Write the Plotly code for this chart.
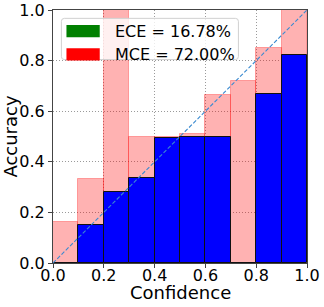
import plotly.graph_objects as go

bin_centers = [0.05, 0.15, 0.25, 0.35, 0.45, 0.55, 0.65, 0.75, 0.85, 0.95]
confidence = [0.162, 0.333, 1.0, 0.50, 0.50, 0.508, 0.663, 0.72, 0.851, 1.0]
accuracy = [0.0, 0.15, 0.28, 0.337, 0.493, 0.50, 0.50, 0.0, 0.667, 0.821]
tick_vals = [0.0, 0.2, 0.4, 0.6, 0.8, 1.0]
ece_label = "ECE = 16.78%"
mce_label = "MCE = 72.00%"

fig = go.Figure()
fig.add_trace(go.Bar(x=bin_centers, y=confidence, width=0.1,
                     marker=dict(color="rgba(255,0,0,0.3)",
                                 line=dict(color="rgba(255,0,0,0.3)", width=1)),
                     showlegend=False))
fig.add_trace(go.Bar(x=bin_centers, y=accuracy, width=0.1,
                     marker=dict(color="#0000ff", line=dict(color="#111", width=1)),
                     showlegend=False))
fig.add_trace(go.Scatter(x=[0, 1], y=[0, 1], mode="lines",
                         line=dict(color="#3a8ad0", width=1.1, dash="4px,2px"),
                         showlegend=False))

font = "DejaVu Sans"
axis_common = dict(range=[0, 1], tickvals=tick_vals, tickformat=".1f", automargin=False,
                   showgrid=True, gridcolor="#9a9a9a", griddash="1px,2px", gridwidth=0.8,
                   showline=True, linecolor="#444", linewidth=1, mirror=True,
                   ticks="outside", ticklen=4, tickcolor="#444",
                   tickfont=dict(family=font, size=16, color="black"),
                   zeroline=False, fixedrange=True)
fig.update_xaxes(**axis_common, ticklabelstandoff=-6)
fig.update_yaxes(**axis_common,
                 title=dict(text="Accuracy", font=dict(family=font, size=18, color="black"), standoff=2))
fig.add_annotation(x=0.5, y=-0.118, xref="paper", yref="paper", text="Confidence", showarrow=False,
                   xanchor="center", yanchor="middle", font=dict(family=font, size=18, color="black"))

# legend drawn manually
x0, x1, y0, y1, r = 0.033, 0.730, 0.804, 0.967, 0.012
path = (f"M {x0+r},{y0} L {x1-r},{y0} Q {x1},{y0} {x1},{y0+r} L {x1},{y1-r} "
        f"Q {x1},{y1} {x1-r},{y1} L {x0+r},{y1} Q {x0},{y1} {x0},{y1-r} "
        f"L {x0},{y0+r} Q {x0},{y0} {x0+r},{y0} Z")
fig.add_shape(type="path", path=path, xref="x", yref="y", layer="above",
              fillcolor="rgba(255,255,255,0.8)", line=dict(color="#d0d0d0", width=1))
fig.add_shape(type="rect", x0=0.053, x1=0.184, y0=0.892, y1=0.941, xref="x", yref="y",
              layer="above", fillcolor="green", line=dict(width=0))
fig.add_shape(type="rect", x0=0.053, x1=0.184, y0=0.800, y1=0.849, xref="x", yref="y",
              layer="above", fillcolor="red", line=dict(width=0))
fig.add_annotation(x=0.237, y=0.917, xref="x", yref="y", text=ece_label, showarrow=False,
                   xanchor="left", yanchor="middle", font=dict(family=font, size=16, color="black"))
fig.add_annotation(x=0.237, y=0.825, xref="x", yref="y", text=mce_label, showarrow=False,
                   xanchor="left", yanchor="middle", font=dict(family=font, size=16, color="black"))

fig.update_layout(width=324, height=307, barmode="overlay",
                  margin=dict(l=53, r=17, t=10, b=44),
                  paper_bgcolor="white", plot_bgcolor="white", bargap=0)
fig.write_html("out.html", config={"displayModeBar": False},
               post_script="document.body.style.margin='0';")
